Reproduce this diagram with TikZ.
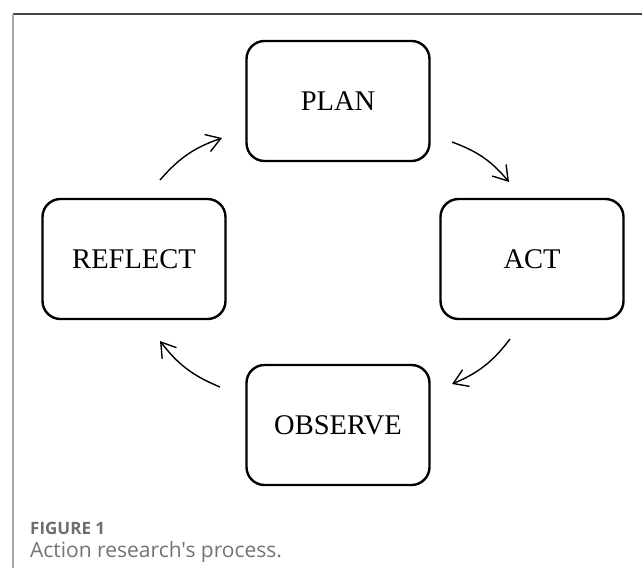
\documentclass[tikz,border=0pt]{standalone}
\usepackage{fontspec}
\setmainfont{Liberation Serif}
\newfontfamily\capfont{Open Sans}
\usetikzlibrary{arrows.meta}
\definecolor{framedark}{HTML}{444444}
\definecolor{framelight}{HTML}{A8A8A8}
\definecolor{labelgray}{HTML}{6E6E6E}
\definecolor{captiongray}{HTML}{737373}
\begin{document}
\begin{tikzpicture}[x=1pt,y=-1pt,
  stage/.style={draw, line width=2.4pt, rounded corners=18pt,
    minimum width=183pt, minimum height=120pt, inner sep=0pt,
    font=\fontsize{28.5}{30}\selectfont},
  flow/.style={line width=1.4pt, -{Straight Barb[length=14pt,width=18pt]}, bend left=15},
  captext/.style={anchor=base west, inner sep=0pt}]
\useasboundingbox (0,0) rectangle (642,568);

% panel frame
\draw[framedark, line width=1.2pt] (13,14) -- (642,14);
\draw[framelight, line width=1.5pt] (13,14) -- (13,568);

% the four stages of the cycle
\node[stage] (plan)    at (338,101) {PLAN};
\node[stage] (act)     at (532,259) {ACT};
\node[stage] (observe) at (338,425) {OBSERVE};
\node[stage] (reflect) at (134,259) {REFLECT};

% arrow end points between the stages
\coordinate (rpA) at (160,180);
\coordinate (rpB) at (222,138);
\coordinate (paA) at (452,142);
\coordinate (paB) at (509,182);
\coordinate (aoA) at (510,339);
\coordinate (aoB) at (452,384);
\coordinate (orA) at (220,387);
\coordinate (orB) at (160,341);

\draw[flow] (rpA) to (rpB);
\draw[flow] (paA) to (paB);
\draw[flow] (aoA) to (aoB);
\draw[flow] (orA) to (orB);

% caption
\node[captext, text=labelgray, font=\capfont\bfseries\fontsize{17}{19}\selectfont] (figlabel) at (30,534) {FIGURE 1};
\node[captext, text=captiongray, font=\capfont\fontsize{21}{24}\selectfont] (figcaption) at (30,557) {Action research's process.};
\end{tikzpicture}
\end{document}
